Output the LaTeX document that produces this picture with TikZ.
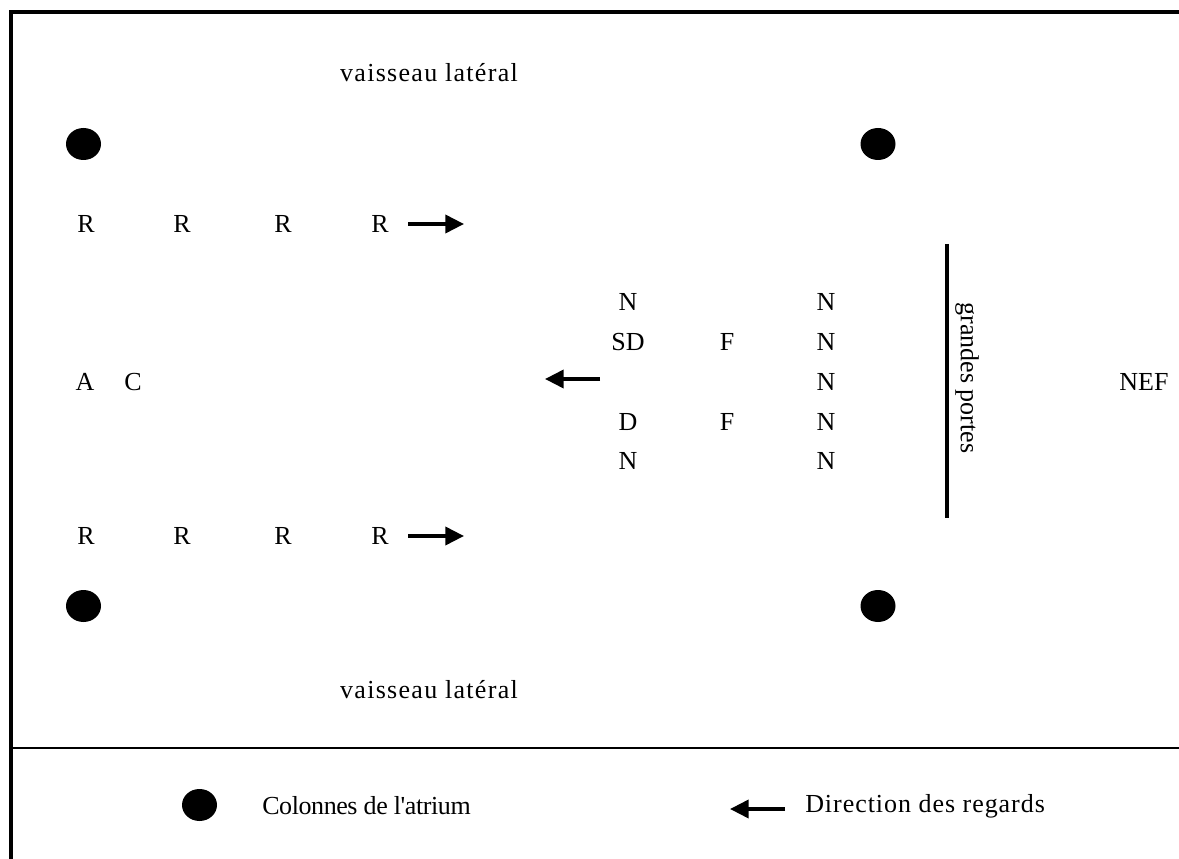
\documentclass[tikz,border=0pt]{standalone}
\usepackage{fontspec}
\newfontfamily\tnr{Liberation Serif}
\newfontfamily\tnrwide{Liberation Serif}[LetterSpace=5]
\newfontfamily\tnrmid{Liberation Serif}[LetterSpace=3.7]
\newfontfamily\tnrtight{Liberation Serif}[LetterSpace=-1.6]
\usetikzlibrary{arrows.meta}
\begin{document}
\begin{tikzpicture}[x=0.75pt,y=-0.75pt,
  lbl/.style={font=\tnr\fontsize{19.5}{22}\selectfont, inner sep=0pt, anchor=center},
  llbl/.style={lbl, anchor=west},
  frame/.style={line width=2.3pt},
  sep/.style={line width=1.6pt},
  look/.style={line width=2.8pt, -{Triangle[length=14pt,width=13.5pt]}},
  door/.style={line width=2.4pt}]
\useasboundingbox (0,0) rectangle (1179,859);
% frame
\coordinate (fTL) at (11,12);
\coordinate (fBL) at (11,859);
\coordinate (fTR) at (1179,12);
\coordinate (sL) at (11,748);
\coordinate (sR) at (1179,748);
\draw[frame] (fBL) -- (fTL) -- (fTR);
\draw[sep] (sL) -- (sR);
% columns
\fill (83.5,144) ellipse (17.5 and 16);
\fill (878,144) ellipse (17.5 and 16);
\fill (83.5,606) ellipse (17.5 and 16);
\fill (878,606) ellipse (17.5 and 16);
% labels
\node[lbl, font=\tnrwide\fontsize{19.5}{22}\selectfont] (vt) at (429,73) {vaisseau latéral};
\node[lbl, font=\tnrwide\fontsize{19.5}{22}\selectfont] (vb) at (429,690) {vaisseau latéral};
% R rows
\node[lbl] (r1) at (86,224) {R};
\node[lbl] (r2) at (182,224) {R};
\node[lbl] (r3) at (283,224) {R};
\node[lbl] (r4) at (380,224) {R};
\node[lbl] (r5) at (86,536) {R};
\node[lbl] (r6) at (182,536) {R};
\node[lbl] (r7) at (283,536) {R};
\node[lbl] (r8) at (380,536) {R};
\coordinate (a1s) at (408,224);
\coordinate (a1e) at (464,224);
\coordinate (a2s) at (408,536);
\coordinate (a2e) at (464,536);
\draw[look] (a1s) -- (a1e);
\draw[look] (a2s) -- (a2e);
% A C
\node[lbl] (A) at (85,382) {A};
\node[lbl] (C) at (133,382) {C};
% center group
\node[lbl] (n1) at (628,302) {N};
\node[lbl] (sd) at (628,342) {SD};
\node[lbl] (d) at (628,422) {D};
\node[lbl] (n2) at (628,461) {N};
\node[lbl] (f1) at (727,342) {F};
\node[lbl] (f2) at (727,422) {F};
\node[lbl] (m1) at (826,302) {N};
\node[lbl] (m2) at (826,342) {N};
\node[lbl] (m3) at (826,382) {N};
\node[lbl] (m4) at (826,422) {N};
\node[lbl] (m5) at (826,461) {N};
\coordinate (a3s) at (600,379);
\coordinate (a3e) at (545,379);
\draw[look] (a3s) -- (a3e);
% doors
\coordinate (dt) at (947,244);
\coordinate (db) at (947,518);
\draw[door] (dt) -- (db);
\node[lbl, rotate=-90] (gp) at (967,378) {grandes portes};
\node[lbl] (nef) at (1144,382) {NEF};
% legend
\fill (199.5,805) ellipse (17.5 and 16);
\node[llbl, font=\tnrtight\fontsize{19.5}{22}\selectfont] (lc) at (262,806) {Colonnes de l'atrium};
\coordinate (l2s) at (785,809);
\coordinate (l2e) at (730,809);
\draw[look] (l2s) -- (l2e);
\node[llbl, font=\tnrmid\fontsize{19.5}{22}\selectfont] (ld) at (805,806) {Direction des regards};
\end{tikzpicture}
\end{document}
